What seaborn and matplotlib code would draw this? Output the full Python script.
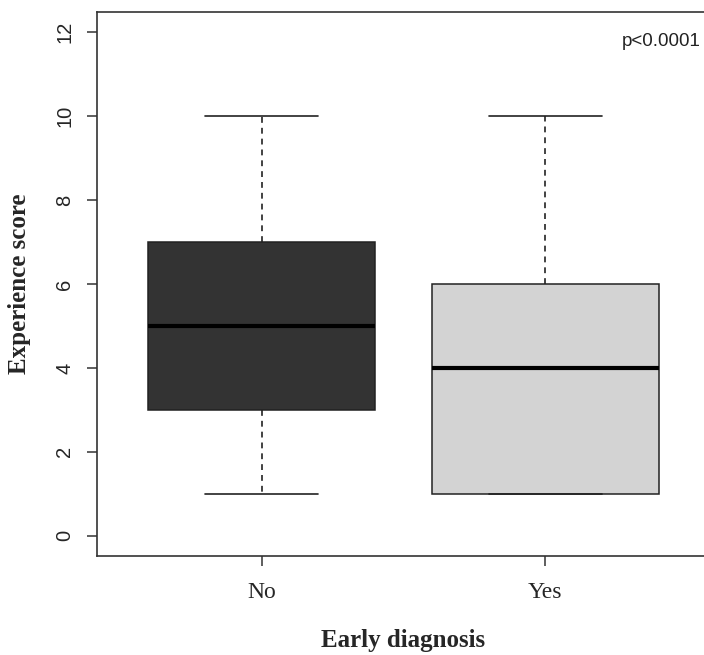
import numpy as np
import pandas as pd
import matplotlib
matplotlib.use("Agg")
import matplotlib.pyplot as plt
import seaborn as sns

# ------------------------------------------------------------
# Data (five-number summaries)
# ------------------------------------------------------------
groups = ["No", "Yes"]
mins = [1, 1]
q1s = [3, 1]
medians = [5, 4]
q3s = [7, 6]
maxs = [10, 10]
box_colors = ["#333333", "#d3d3d3"]

y_ticks = [0, 2, 4, 6, 8, 10, 12]
p_text = "p<0.0001"

# five values per group give exactly these quartiles and whiskers
rows = []
for g, a, b, c, d, e in zip(groups, mins, q1s, medians, q3s, maxs):
    for v in [a, b, c, d, e]:
        rows.append({"Early diagnosis": g, "Experience score": v})
df = pd.DataFrame(rows)

# ------------------------------------------------------------
# Plot
# ------------------------------------------------------------
sns.set_style("white")

fig = plt.figure(figsize=(7.04, 6.55), dpi=100)
ax = fig.add_axes([0.1378, 0.1511, 0.8707, 0.8306])

line_col = "#222222"
sns.boxplot(
    data=df,
    x="Early diagnosis",
    y="Experience score",
    hue="Early diagnosis",
    palette=box_colors,
    order=groups,
    hue_order=groups,
    width=0.8,
    whis=1.5,
    linecolor=line_col,
    linewidth=1.1,
    legend=False,
    ax=ax,
    medianprops={"color": "black", "linewidth": 3.0},
    whiskerprops={"color": line_col, "linestyle": (0, (3.5, 3)), "linewidth": 1.2},
    capprops={"color": line_col, "linewidth": 1.2},
)

ax.set_xlim(-0.58, 1.58)
ax.set_ylim(-0.48, 12.48)
ax.set_yticks(y_ticks)
ax.set_yticklabels([str(t) for t in y_ticks], rotation=90, va="center",
                   fontfamily="Liberation Sans", fontsize=14.5)
ax.set_xticks(range(len(groups)))
ax.set_xticklabels(groups, fontfamily="Liberation Serif", fontsize=17)

ax.tick_params(axis="both", direction="out", length=7.5, width=1.1,
               color="#333333", left=True, bottom=True)
ax.tick_params(axis="y", pad=9)
ax.tick_params(axis="x", pad=11)

for side in ["left", "bottom", "top"]:
    ax.spines[side].set_color("#333333")
    ax.spines[side].set_linewidth(1.2)
ax.spines["right"].set_visible(False)

ax.set_xlabel("Early diagnosis", fontfamily="Liberation Serif",
              fontweight="bold", fontsize=18, labelpad=19)
ax.set_ylabel("Experience score", fontfamily="Liberation Serif",
              fontweight="bold", fontsize=18, labelpad=17)

ax.text(0.984, 0.945, p_text, transform=ax.transAxes, ha="right", va="center",
        fontfamily="Liberation Sans", fontsize=13.5, color="#222222")

fig.savefig("out.png", dpi=100)
